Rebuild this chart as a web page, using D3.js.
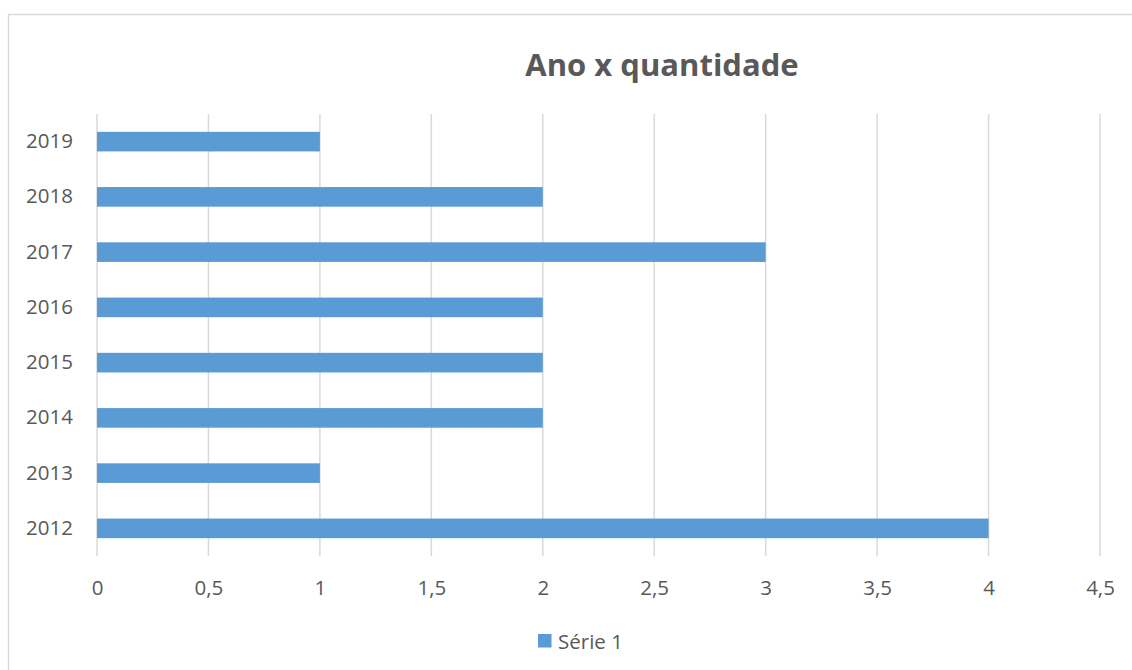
<!DOCTYPE html>
<html>
<head>
<meta charset="utf-8">
<script src="https://cdn.jsdelivr.net/npm/d3@7"></script>
<style>
  body { margin: 0; background: #fff; }
  text { font-family: "Open Sans", sans-serif; fill: #595959; }
</style>
</head>
<body>
<div id="chart"></div>
<script>
// dados
const anos = ["2012", "2013", "2014", "2015", "2016", "2017", "2018", "2019"];
const quantidade = [4, 1, 2, 2, 2, 3, 2, 1];
const xTicks = [0, 0.5, 1, 1.5, 2, 2.5, 3, 3.5, 4, 4.5];
const serieNome = "Série 1";
const titulo = "Ano x quantidade";

const W = 1132, H = 670;
const mLeft = 97, mRight = 1100, mTop = 114, mBottom = 556;
const cor = "#5b9bd5";

const svg = d3.select("#chart").append("svg")
  .attr("width", W).attr("height", H);

// moldura
svg.append("rect")
  .attr("x", 8.5).attr("y", 14.5)
  .attr("width", 1140).attr("height", 700)
  .attr("fill", "none").attr("stroke", "#d9d9d9").attr("stroke-width", 1.5);

svg.append("text")
  .attr("x", 662).attr("y", 64)
  .attr("text-anchor", "middle").attr("dominant-baseline", "central")
  .style("font-size", "31px").style("font-weight", "bold")
  .text(titulo);

const x = d3.scaleLinear().domain([0, 4.5]).range([mLeft, mRight]);
const y = d3.scaleBand()
  .domain(anos.slice().reverse())
  .range([mTop, mBottom])
  .paddingInner(0.645).paddingOuter(0.3225);

// grade
svg.append("g").selectAll("line")
  .data(xTicks)
  .enter().append("line")
  .attr("x1", d => x(d)).attr("x2", d => x(d))
  .attr("y1", mTop).attr("y2", mBottom)
  .attr("stroke", "#d9d9d9").attr("stroke-width", 1.5);

// eixo x
const xAxis = svg.append("g")
  .attr("transform", `translate(0,${mBottom})`)
  .call(d3.axisBottom(x).tickValues(xTicks).tickSize(0).tickPadding(24)
    .tickFormat(d => String(d).replace(".", ",")));
xAxis.select(".domain").remove();
xAxis.selectAll("text").style("font-size", "20.5px");
xAxis.attr("font-family", null);

// eixo y
const yAxis = svg.append("g")
  .attr("transform", `translate(${mLeft},0)`)
  .call(d3.axisLeft(y).tickSize(0).tickPadding(24));
yAxis.select(".domain").remove();
yAxis.selectAll("text").style("font-size", "20.5px");
yAxis.attr("font-family", null);

// barras
svg.selectAll(".bar")
  .data(anos.map((a, i) => ({ ano: a, v: quantidade[i] })))
  .enter().append("rect")
  .attr("class", "bar")
  .attr("x", x(0))
  .attr("y", d => y(d.ano))
  .attr("width", d => x(d.v) - x(0))
  .attr("height", y.bandwidth())
  .attr("fill", cor);

// legenda
const leg = svg.append("g").attr("transform", "translate(538,634)");
leg.append("rect").attr("width", 13.5).attr("height", 13.5).attr("fill", cor);
leg.append("text").attr("x", 20).attr("y", 7)
  .attr("dominant-baseline", "central")
  .style("font-size", "20.5px").text(serieNome);
</script>
</body>
</html>
